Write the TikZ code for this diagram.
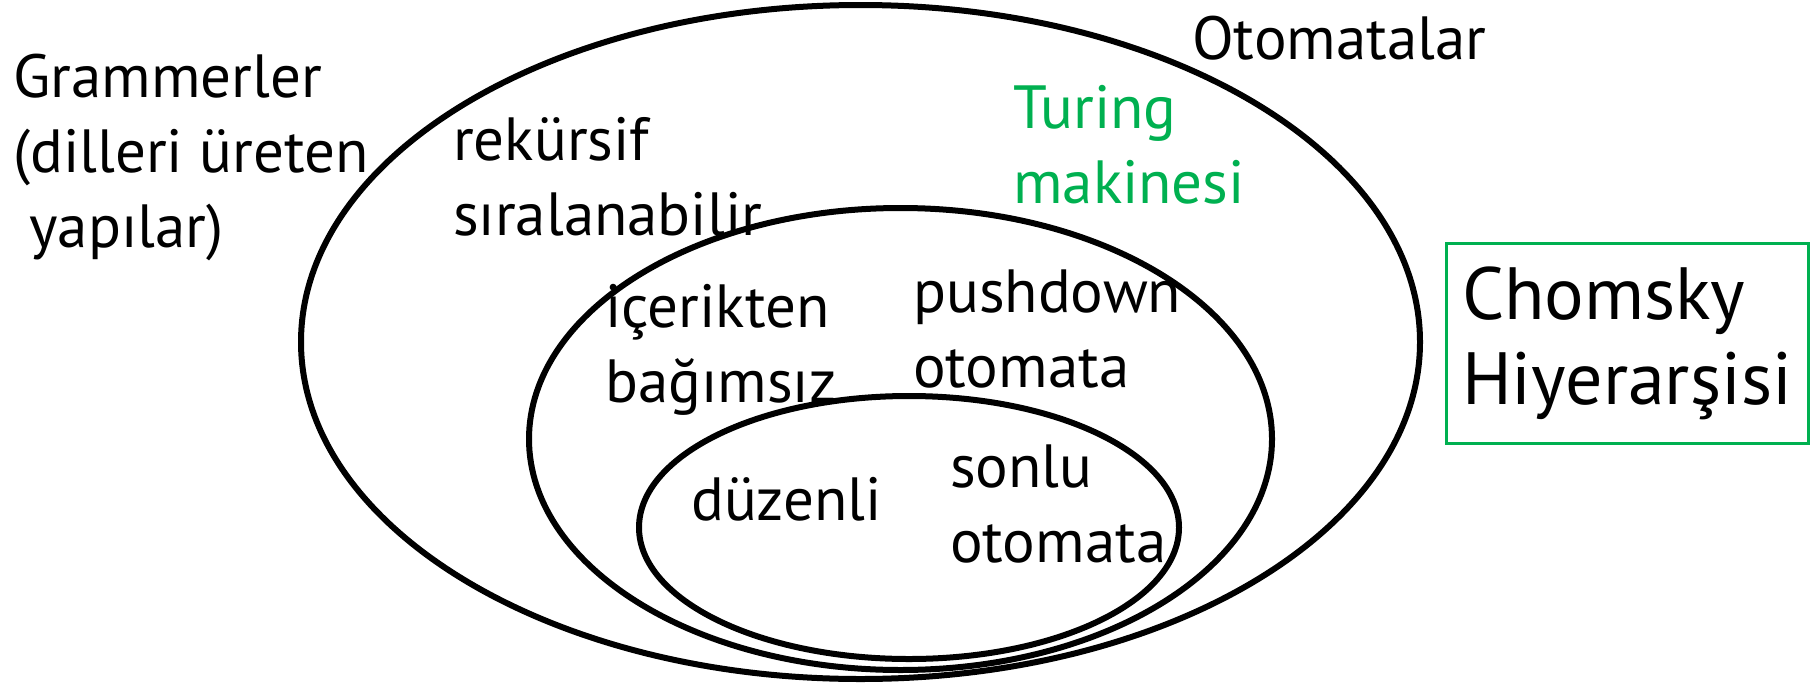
\documentclass[tikz,border=0pt]{standalone}
\usepackage{fontspec}
\setmainfont{PT Sans}
\definecolor{chomskygreen}{RGB}{0,176,80}
\begin{document}
\begin{tikzpicture}[x=1pt,y=-1pt,
    setline/.style={draw=black, line width=6pt},
    lbl/.style={inner sep=0pt, anchor=base west, align=left, font=\fontsize{61}{75}\selectfont},
    boxlbl/.style={draw=chomskygreen, line width=3pt, minimum width=362pt, minimum height=200pt, font=\fontsize{74}{85}\selectfont}]
\useasboundingbox (0,0) rectangle (1812,683);
% nested sets
\draw[setline] (860.5,342) ellipse [x radius=559.5, y radius=337];
\draw[setline] (900.5,439) ellipse [x radius=371.5, y radius=231];
\draw[setline] (909,527.5) ellipse [x radius=270, y radius=131.5];
% labels (anchor = baseline of the last line)
\node[lbl] (gram) at (13,247) {Grammerler\\(dilleri üreten\\ \ yapılar)};
\node[lbl] (otom) at (1192,59) {Otomatalar};
\node[lbl, text=chomskygreen] (turing) at (1013,203) {Turing\\makinesi};
\node[lbl] (rekur) at (453,235) {rekürsif\\sıralanabilir};
\node[lbl] (icerik) at (605,402) {içerikten\\bağımsız};
\node[lbl] (push) at (913,387) {pushdown\\otomata};
\node[lbl] (duzen) at (691,520) {düzenli};
\node[lbl] (sonlu) at (950,562) {sonlu\\otomata};
\node[boxlbl, align=left] (chomsky) at (1627,343) {Chomsky\\Hiyerarşisi};
\end{tikzpicture}
\end{document}
